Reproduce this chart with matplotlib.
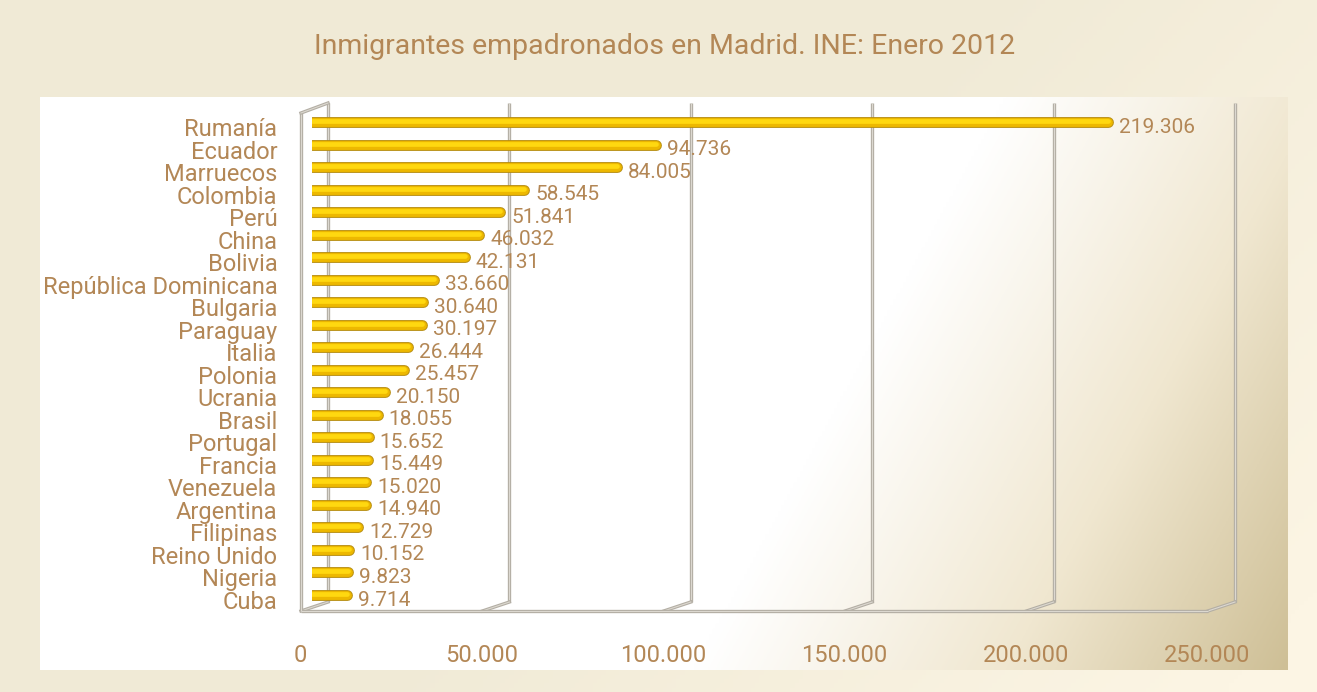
import numpy as np
import matplotlib
matplotlib.use("Agg")
import matplotlib.pyplot as plt
from matplotlib import transforms as mtransforms

categories = ["Rumanía", "Ecuador", "Marruecos", "Colombia", "Perú", "China", "Bolivia",
              "República Dominicana", "Bulgaria", "Paraguay", "Italia", "Polonia", "Ucrania",
              "Brasil", "Portugal", "Francia", "Venezuela", "Argentina", "Filipinas",
              "Reino Unido", "Nigeria", "Cuba"]
values = [219306, 94736, 84005, 58545, 51841, 46032, 42131, 33660, 30640, 30197, 26444,
          25457, 20150, 18055, 15652, 15449, 15020, 14940, 12729, 10152, 9823, 9714]
xticks = [0, 50000, 100000, 150000, 200000, 250000]
xtick_labels = ["0", "50.000", "100.000", "150.000", "200.000", "250.000"]
title = "Inmigrantes empadronados en Madrid. INE: Enero 2012"

W, H = 1317, 692
DPI = 100
FONT = ["Roboto", "DejaVu Sans"]
TXT = "#B38756"
WT = "normal"

fig = plt.figure(figsize=(W / DPI, H / DPI), dpi=DPI)

def px(x0, y0, x1, y1):
    return [x0 / W, 1 - y1 / H, (x1 - x0) / W, (y1 - y0) / H]

# outer background gradient
bgax = fig.add_axes([0, 0, 1, 1], zorder=-10)
u = np.linspace(0, 1, 300)[None, :]
v = np.linspace(0, 1, 160)[:, None]
s = np.clip((u * 0.75 + v * 0.35 - 0.55) / 0.5, 0, 1)
c0 = np.array([240, 234, 214]) / 255
c1 = np.array([252, 245, 228]) / 255
img = c0[None, None, :] * (1 - s[..., None]) + c1[None, None, :] * s[..., None]
bgax.imshow(img, aspect="auto", extent=[0, 1, 0, 1], origin="upper")
bgax.set_axis_off()

# inner panel gradient
pax = fig.add_axes(px(40, 97, 1288, 670), zorder=-9)
u = np.linspace(0, 1, 400)[None, :]
v = np.linspace(0, 1, 200)[:, None]
s = (u + 0.25 * v) / 1.25
white = np.array([255, 255, 255]) / 255
mid = np.array([240, 231, 208]) / 255
dark = np.array([206, 191, 150]) / 255
t1 = np.clip((s - 0.62) / 0.2, 0, 1)[..., None]
t2 = np.clip((s - 0.82) / 0.18, 0, 1)[..., None]
img = white * (1 - t1) + mid * t1
img = img * (1 - t2) + dark * t2
pax.imshow(img, aspect="auto", extent=[0, 1, 0, 1], origin="upper")
pax.set_axis_off()

# main axes: data 0 -> 312px, 250k -> 1219px ; y from 100 to 611
ax = fig.add_axes(px(312, 100, 1219, 611))
ax.set_facecolor("none")
for sp in ax.spines.values():
    sp.set_visible(False)
n = len(categories)
ypos = np.arange(n)
ax.set_xlim(0, 250000)
ax.set_ylim(n - 1 + 0.71, -0.977)

def off(dx, dy=0):
    return mtransforms.ScaledTranslation(dx / DPI, -dy / DPI, fig.dpi_scale_trans)

xt = ax.get_xaxis_transform()
ytop_back = 1 - 3 / 511
ybot_back = 9 / 511
gcol = "#B3AEA4"
gcol2 = "#DCD8D0"
for xv in xticks:
    tb = xt + off(16)
    for lw, c in ((2.4, gcol), (0.8, gcol2)):
        ax.plot([xv, xv], [ytop_back, ybot_back], transform=tb, color=c, lw=lw,
                zorder=1, clip_on=False, solid_capstyle="butt")
for xv in xticks:
    p_back = ax.transData.transform((xv, 0))[0] + 16
    p_front = ax.transData.transform((xv, 0))[0] - 11
    for lw, c in ((2.4, gcol), (0.8, gcol2)):
        ax.plot([p_back, p_front], [H - 602, H - 611], transform=None, color=c, lw=lw,
                zorder=1, clip_on=False)
for lw, c in ((2.4, gcol), (0.8, gcol2)):
    ax.plot([xticks[0], xticks[-1]], [0, 0], transform=xt + off(-11), color=c, lw=lw,
            zorder=1, clip_on=False, solid_capstyle="butt")
    ax.plot([xticks[0], xticks[0]], [0, 1 - 13 / 511], transform=xt + off(-11), color=c,
            lw=lw, zorder=1, clip_on=False, solid_capstyle="butt")
x0d = ax.transData.transform((0, 0))[0]
for lw, c in ((2.4, gcol), (0.8, gcol2)):
    ax.plot([x0d - 11, x0d + 16], [H - 113, H - 103], transform=None, color=c, lw=lw,
            zorder=1, clip_on=False)

# bars as rounded cylinders
for y, val in zip(ypos, values):
    ax.plot([0, val], [y, y], color="#B88E10", lw=7.8, solid_capstyle="round", zorder=3)
    ax.plot([0, val], [y, y], color="#EDB800", lw=6.4, solid_capstyle="round", zorder=4)
    ax.plot([0, val], [y, y], transform=ax.transData + off(0, -1.0), color="#FFD810",
            lw=3.4, solid_capstyle="round", zorder=5)
    ax.text(val, y, f"{val:,}".replace(",", "."), transform=ax.transData + off(11, 5),
            ha="left", va="center", fontsize=15, color=TXT, family=FONT,
            fontweight=WT, zorder=6)

ax.set_yticks(ypos)
ax.set_yticklabels(categories, family=FONT, fontsize=17, color=TXT, fontweight=WT)
ax.tick_params(axis="y", length=0, pad=25)
for lbl in ax.get_yticklabels():
    lbl.set_transform(lbl.get_transform() + off(0, 5))
ax.set_xticks(xticks)
ax.set_xticklabels(xtick_labels, family=FONT, fontsize=17, color=TXT, fontweight=WT)
ax.tick_params(axis="x", length=0, pad=24)
for lbl in ax.get_xticklabels():
    lbl.set_transform(lbl.get_transform() + off(-12, 0))

fig.text(665 / W, 1 - 47 / H, title, ha="center", va="center", fontsize=20.5,
         color=TXT, family=FONT, fontweight=WT)

fig.savefig("out.png", dpi=DPI)
